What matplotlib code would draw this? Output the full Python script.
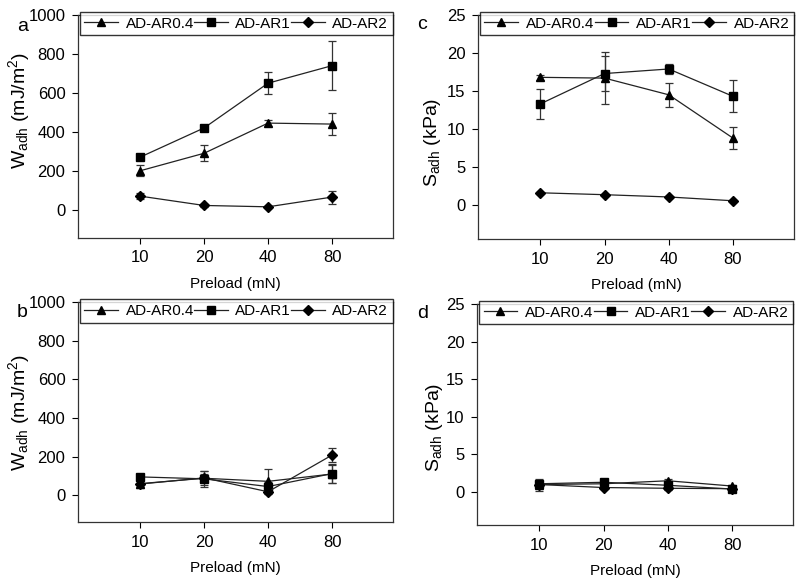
import matplotlib
matplotlib.use("Agg")
import matplotlib.pyplot as plt
import numpy as np

plt.rcParams['font.family'] = ['Liberation Sans', 'DejaVu Sans']
plt.rcParams['mathtext.default'] = 'regular'

preload = ['10', '20', '40', '80']
series = ['AD-AR0.4', 'AD-AR1', 'AD-AR2']
markers = ['^', 's', 'D']

# Panel a: W_adh (mJ/m2)
a_vals = {'AD-AR0.4': [200, 290, 445, 440],
          'AD-AR1': [270, 420, 650, 740],
          'AD-AR2': [70, 22, 15, 65]}
a_errs = {'AD-AR0.4': [28, 40, 15, 55],
          'AD-AR1': [10, 15, 58, 125],
          'AD-AR2': [15, 6, 6, 33]}

# Panel b: W_adh (mJ/m2)
b_vals = {'AD-AR0.4': [60, 88, 72, 110],
          'AD-AR1': [95, 85, 45, 112],
          'AD-AR2': [58, 90, 18, 208]}
b_errs = {'AD-AR0.4': [20, 35, 62, 45],
          'AD-AR1': [12, 40, 25, 50],
          'AD-AR2': [15, 20, 10, 35]}

# Panel c: S_adh (kPa)
c_vals = {'AD-AR0.4': [16.8, 16.7, 14.5, 8.8],
          'AD-AR1': [13.3, 17.3, 17.9, 14.3],
          'AD-AR2': [1.6, 1.35, 1.05, 0.55]}
c_errs = {'AD-AR0.4': [0.3, 3.4, 1.6, 1.5],
          'AD-AR1': [2.0, 2.3, 0.6, 2.1],
          'AD-AR2': [0.1, 0.1, 0.1, 0.1]}

# Panel d: S_adh (kPa)
d_vals = {'AD-AR0.4': [1.0, 1.1, 1.5, 0.8],
          'AD-AR1': [1.1, 1.3, 0.9, 0.4],
          'AD-AR2': [1.0, 0.6, 0.5, 0.45]}
d_errs = {'AD-AR0.4': [0.8, 0.2, 0.3, 0.2],
          'AD-AR1': [0.4, 0.2, 0.3, 0.2],
          'AD-AR2': [0.3, 0.2, 0.2, 0.2]}

fig = plt.figure(figsize=(8, 5.79), dpi=100)

panels = [
    ('a', [0.0975, 0.589, 0.3935, 0.385], a_vals, a_errs, (-145, 1000), np.arange(0, 1001, 200),
     'W$_{adh}$ (mJ/m$^{2}$)', (0.021, 0.946), (-0.146, 0.574)),
    ('c', [0.5975, 0.587, 0.395, 0.387], c_vals, c_errs, (-4.5, 25), np.arange(0, 26, 5),
     'S$_{adh}$ (kPa)', (0.521, 0.950), (-0.110, 0.43)),
    ('b', [0.0975, 0.098, 0.3935, 0.380], b_vals, b_errs, (-140, 1000), np.arange(0, 1001, 200),
     'W$_{adh}$ (mJ/m$^{2}$)', (0.021, 0.452), (-0.146, 0.5)),
    ('d', [0.5963, 0.093, 0.395, 0.382], d_vals, d_errs, (-4.4, 25), np.arange(0, 26, 5),
     'S$_{adh}$ (kPa)', (0.521, 0.451), (-0.100, 0.44)),
]

x = np.arange(len(preload))
for letter, rect, vals, errs, ylim, yticks, ylabel, lpos, ylc in panels:
    ax = fig.add_axes(rect)
    handles = []
    for s, m in zip(series, markers):
        cont = ax.errorbar(x, vals[s], yerr=errs[s], color='#222222', lw=0.9,
                           marker=m, ms=6 if m != 'D' else 5.5, mfc='black', mec='black',
                           ecolor='#333333', elinewidth=0.9, capsize=3, capthick=0.9, label=s)
        handles.append(cont[0])
    ax.set_xlim(-0.97, 3.95)
    ax.set_ylim(*ylim)
    ax.set_xticks(x)
    ax.set_xticklabels(preload)
    ax.set_yticks(yticks)
    ax.tick_params(direction='out', length=4, width=0.8, labelsize=12, colors='black', pad=5)
    for sp in ax.spines.values():
        sp.set_linewidth(0.9)
        sp.set_color('#333333')
    ax.set_xlabel('Preload (mN)', fontsize=11, labelpad=8)
    ax.set_ylabel(ylabel, fontsize=14)
    ax.yaxis.set_label_coords(*ylc)
    leg = ax.legend(handles=handles, labels=series, loc='upper left',
                    bbox_to_anchor=(0.006, 0.919, 0.994, 0.094),
                    mode='expand', ncol=3, frameon=True, fancybox=False,
                    edgecolor='black', fontsize=11, handlelength=2.2,
                    handletextpad=0.5, columnspacing=0.6, borderaxespad=0,
                    borderpad=0.3)
    leg.get_frame().set_linewidth(1.0)
    fig.text(lpos[0], lpos[1], letter, fontsize=14, ha='left', va='baseline')

fig.savefig('out.png', dpi=100)
